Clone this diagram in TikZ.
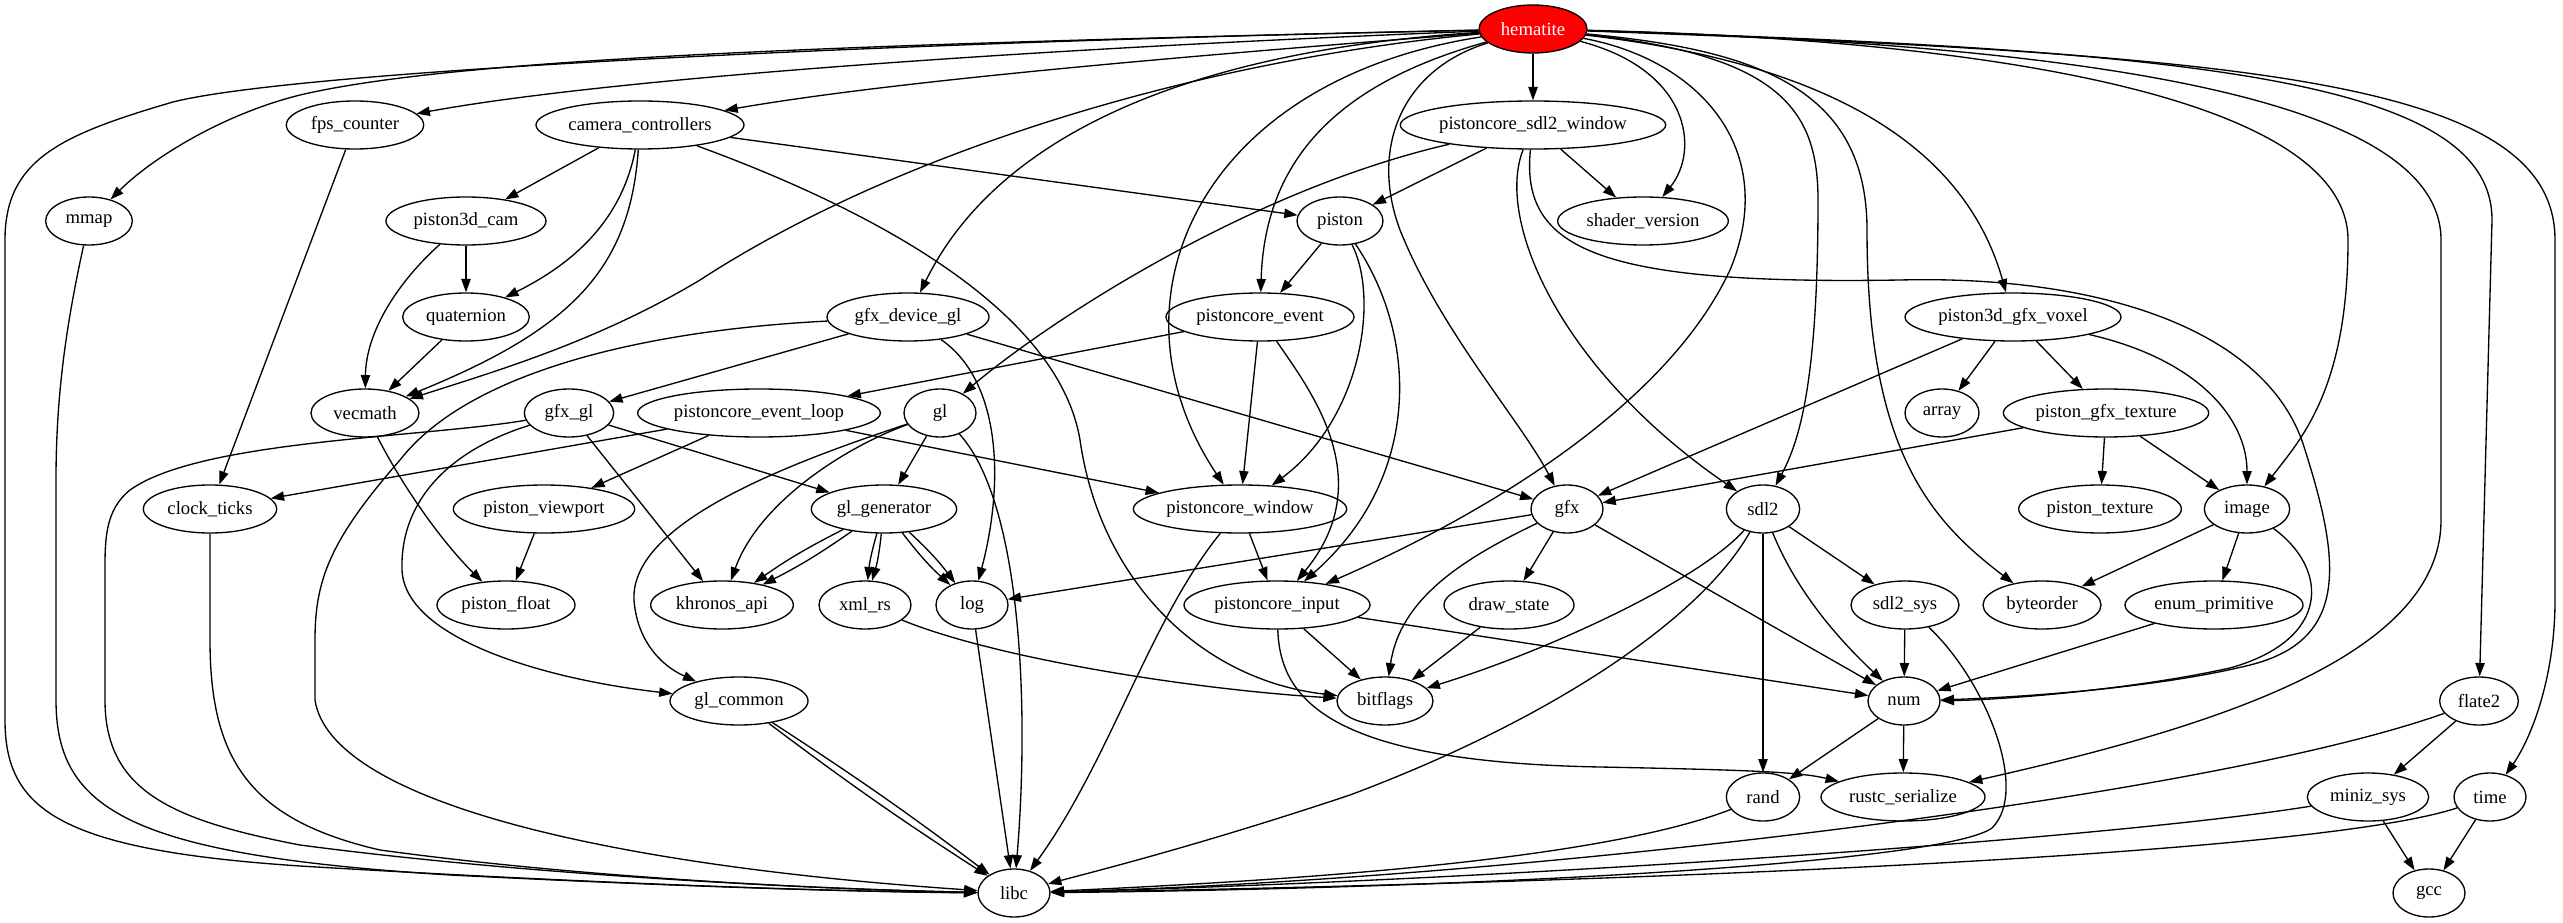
\documentclass[tikz,border=0pt]{standalone}
\usepackage{fontspec}
\setmainfont{Liberation Serif}
\usetikzlibrary{shapes.geometric,arrows.meta}
\tikzset{
  nd/.style={draw, ellipse, line width=1pt, inner sep=0pt, minimum height=36pt, font=\fontsize{14}{16}\selectfont},
  edg/.style={-{Triangle[length=10pt,width=7pt]}, line width=1pt},
}
\begin{document}
\begin{tikzpicture}[x=0.75pt,y=-0.75pt]
\useasboundingbox (0,0) rectangle (2563,923);
% rank 0
\node[nd, minimum width=81pt, fill=red, text=white] (hem) at (1533,29) {hematite};
% rank 1
\node[nd, minimum width=103pt] (fps) at (355,125) {fps\_counter};
\node[nd, minimum width=156pt] (cam) at (640,125) {camera\_controllers};
\node[nd, minimum width=198pt] (sdlw) at (1533,125) {pistoncore\_sdl2\_window};
% rank 2
\node[nd, minimum width=65pt] (mmap) at (89,221) {mmap};
\node[nd, minimum width=120pt] (p3cam) at (466,221) {piston3d\_cam};
\node[nd, minimum width=64.5pt] (piston) at (1340,221) {piston};
\node[nd, minimum width=128pt] (shader) at (1643,221) {shader\_version};
% rank 3
\node[nd, minimum width=95pt] (quat) at (466,317) {quaternion};
\node[nd, minimum width=121.5pt] (gdgl) at (908,317) {gfx\_device\_gl};
\node[nd, minimum width=141pt] (pev) at (1260,317) {pistoncore\_event};
\node[nd, minimum width=162pt] (voxel) at (2013,317) {piston3d\_gfx\_voxel};
% rank 4
\node[nd, minimum width=81pt] (vecm) at (365,413) {vecmath};
\node[nd, minimum width=67pt] (gfxgl) at (569,413) {gfx\_gl};
\node[nd, minimum width=182pt] (pevl) at (759,413) {pistoncore\_event\_loop};
\node[nd, minimum width=54pt] (gl) at (940,413) {gl};
\node[nd, minimum width=55.5pt] (array) at (1942,413) {array};
\node[nd, minimum width=154pt] (pgtex) at (2106,413) {piston\_gfx\_texture};
% rank 5
\node[nd, minimum width=100pt] (clock) at (210,509) {clock\_ticks};
\node[nd, minimum width=136pt] (pview) at (544,509) {piston\_viewport};
\node[nd, minimum width=109pt] (glgen) at (884,509) {gl\_generator};
\node[nd, minimum width=160pt] (pwin) at (1240,509) {pistoncore\_window};
\node[nd, minimum width=54pt] (gfx) at (1567,509) {gfx};
\node[nd, minimum width=55pt] (sdl2) at (1763,509) {sdl2};
\node[nd, minimum width=122pt] (ptex) at (2100,509) {piston\_texture};
\node[nd, minimum width=64pt] (image) at (2247,509) {image};
% rank 6
\node[nd, minimum width=103.5pt] (pfloat) at (506,605) {piston\_float};
\node[nd, minimum width=107pt] (khr) at (722,605) {khronos\_api};
\node[nd, minimum width=69pt] (xml) at (865,605) {xml\_rs};
\node[nd, minimum width=54pt] (log) at (972,605) {log};
\node[nd, minimum width=139.5pt] (pinput) at (1277,605) {pistoncore\_input};
\node[nd, minimum width=97.5pt] (dstate) at (1509,605) {draw\_state};
\node[nd, minimum width=81pt] (sdl2sys) at (1905,605) {sdl2\_sys};
\node[nd, minimum width=88.5pt] (byte) at (2042,605) {byteorder};
\node[nd, minimum width=133.5pt] (enump) at (2214,605) {enum\_primitive};
% rank 7
\node[nd, minimum width=103.5pt] (glc) at (739,701) {gl\_common};
\node[nd, minimum width=72pt] (bitf) at (1385,701) {bitflags};
\node[nd, minimum width=54pt] (num) at (1904,701) {num};
\node[nd, minimum width=59pt] (flate) at (2479,701) {flate2};
% rank 8
\node[nd, minimum width=55pt] (rand) at (1763,797) {rand};
\node[nd, minimum width=123pt] (rustc) at (1903,797) {rustc\_serialize};
\node[nd, minimum width=91pt] (miniz) at (2368,797) {miniz\_sys};
\node[nd, minimum width=54pt] (time) at (2490,797) {time};
% rank 9
\node[nd, minimum width=54pt] (libc) at (1014,893) {libc};
\node[nd, minimum width=54pt] (gcc) at (2429,893) {gcc};

% hematite
\draw[edg] (hem) .. controls (900,42) and (300,70) .. (173,102) .. controls (60,135) and (5,160) .. (5,240) -- (5,720) .. controls (5,810) and (60,850) .. (300,866) .. controls (600,884) and (850,892) .. (libc);
\draw[edg] (hem) .. controls (800,45) and (450,60) .. (300,95) .. controls (220,115) and (150,160) .. (mmap);
\draw[edg] (hem) .. controls (1000,50) and (600,80) .. (fps);
\draw[edg] (hem) .. controls (1200,55) and (900,80) .. (cam);
\draw[edg] (hem) .. controls (1200,60) and (900,150) .. (700,280) .. controls (600,340) and (500,370) .. (vecm);
\draw[edg] (hem) .. controls (1200,50) and (1000,130) .. (gdgl);
\draw[edg] (hem) .. controls (1350,80) and (1265,150) .. (pev);
\draw[edg] (hem) .. controls (1200,80) and (1100,300) .. (pwin);
\draw[edg] (hem) -- (sdlw);
\draw[edg] (hem) .. controls (1690,70) and (1700,150) .. (shader);
\draw[edg] (hem) .. controls (1400,70) and (1370,150) .. (1400,230) .. controls (1440,330) and (1520,420) .. (gfx);
\draw[edg] (hem) .. controls (1700,60) and (1780,150) .. (1730,270) .. controls (1660,420) and (1450,530) .. (pinput);
\draw[edg] (hem) .. controls (1780,55) and (1818,110) .. (1818,200) .. controls (1818,380) and (1800,440) .. (sdl2);
\draw[edg] (hem) .. controls (1760,50) and (1867,90) .. (1867,230) .. controls (1867,450) and (1930,520) .. (byte);
\draw[edg] (hem) .. controls (1800,60) and (1960,130) .. (voxel);
\draw[edg] (hem) .. controls (2000,40) and (2348,100) .. (2348,240) .. controls (2348,390) and (2300,440) .. (image);
\draw[edg] (hem) .. controls (2100,45) and (2441,100) .. (2441,240) -- (2441,520) .. controls (2441,660) and (2200,730) .. (rustc);
\draw[edg] (hem) .. controls (2200,50) and (2492,80) .. (2492,220) -- (flate);
\draw[edg] (hem) .. controls (2250,55) and (2555,80) .. (2555,240) -- (2555,600) .. controls (2555,680) and (2530,740) .. (time);

% pistoncore_sdl2_window
\draw[edg] (sdlw) -- (piston);
\draw[edg] (sdlw) -- (shader);
\draw[edg] (sdlw) .. controls (1250,190) and (1050,320) .. (gl);
\draw[edg] (sdlw) .. controls (1495,220) and (1560,370) .. (sdl2);
\draw[edg] (sdlw) .. controls (1520,250) and (1600,285) .. (1900,280) .. controls (2100,275) and (2270,330) .. (2305,450) .. controls (2340,560) and (2350,640) .. (2250,665) .. controls (2150,690) and (2000,698) .. (num);

% camera_controllers
\draw[edg] (cam) -- (p3cam);
\draw[edg] (cam) .. controls (620,230) and (560,270) .. (quat);
\draw[edg] (cam) .. controls (630,270) and (570,330) .. (vecm);
\draw[edg] (cam) -- (piston);
\draw[edg] (cam) .. controls (900,220) and (1060,320) .. (1080,440) .. controls (1100,580) and (1200,680) .. (bitf);

% left column
\draw[edg] (fps) -- (clock);
\draw[edg] (mmap) .. controls (65,330) and (56,400) .. (56,480) -- (56,700) .. controls (56,810) and (130,855) .. (450,875) .. controls (750,890) and (900,892) .. (libc);
\draw[edg] (clock) -- (210,640) .. controls (210,760) and (250,820) .. (380,850) .. controls (600,880) and (850,890) .. (libc);
\draw[edg] (p3cam) -- (quat);
\draw[edg] (p3cam) .. controls (400,280) and (366,330) .. (vecm);
\draw[edg] (quat) -- (vecm);
\draw[edg] (vecm) .. controls (410,500) and (450,550) .. (pfloat);
\draw[edg] (pview) -- (pfloat);

% gfx_gl / gfx_device_gl
\draw[edg] (gfxgl) .. controls (420,438) and (200,440) .. (130,490) .. controls (105,510) and (105,540) .. (105,570) -- (105,700) .. controls (105,790) and (170,820) .. (300,845) .. controls (550,878) and (850,890) .. (libc);
\draw[edg] (gfxgl) .. controls (450,450) and (400,500) .. (402,570) .. controls (405,640) and (550,680) .. (glc);
\draw[edg] (gfxgl) -- (khr);
\draw[edg] (gfxgl) -- (glgen);
\draw[edg] (gdgl) .. controls (650,330) and (470,370) .. (400,460) .. controls (330,540) and (315,580) .. (315,640) -- (315,700) .. controls (330,800) and (600,865) .. (libc);
\draw[edg] (gdgl) -- (gfxgl);
\draw[edg] (gdgl) .. controls (1000,380) and (1005,480) .. (log);
\draw[edg] (gdgl) -- (gfx);

% piston / events
\draw[edg] (piston) -- (pev);
\draw[edg] (piston) .. controls (1380,300) and (1360,420) .. (pwin);
\draw[edg] (piston) .. controls (1420,340) and (1420,480) .. (pinput);
\draw[edg] (pev) -- (pevl);
\draw[edg] (pev) -- (pwin);
\draw[edg] (pev) .. controls (1310,390) and (1380,480) .. (pinput);
\draw[edg] (pevl) -- (clock);
\draw[edg] (pevl) -- (pview);
\draw[edg] (pevl) -- (pwin);

% gl
\draw[edg] (gl) -- (glgen);
\draw[edg] (gl) .. controls (850,445) and (760,500) .. (khr);
\draw[edg] (gl) .. controls (1020,500) and (1030,700) .. (libc);
\draw[edg] (gl) .. controls (800,460) and (630,520) .. (634,600) .. controls (637,640) and (660,665) .. (glc);
\draw[edg] (glgen) to[bend left=4] (khr);
\draw[edg] (glgen) to[bend right=4] (khr);
\draw[edg] (glgen) to[bend left=5] (xml);
\draw[edg] (glgen) to[bend right=5] (xml);
\draw[edg] (glgen) to[bend left=5] (log);
\draw[edg] (glgen) to[bend right=5] (log);
\draw[edg] (xml) .. controls (1000,660) and (1200,690) .. (bitf);
\draw[edg] (log) -- (libc);
\draw[edg] (glc) to[bend left=2] (libc);
\draw[edg] (glc) to[bend right=2] (libc);

% window / input
\draw[edg] (pwin) -- (pinput);
\draw[edg] (pwin) .. controls (1150,620) and (1110,760) .. (libc);
\draw[edg] (pinput) -- (bitf);
\draw[edg] (pinput) -- (num);
\draw[edg] (pinput) .. controls (1280,700) and (1330,762) .. (1600,767) .. controls (1750,770) and (1800,772) .. (rustc);

% gfx
\draw[edg] (gfx) -- (log);
\draw[edg] (gfx) .. controls (1460,560) and (1400,600) .. (bitf);
\draw[edg] (gfx) -- (dstate);
\draw[edg] (gfx) -- (num);
\draw[edg] (dstate) -- (bitf);

% sdl2
\draw[edg] (sdl2) .. controls (1700,580) and (1550,650) .. (bitf);
\draw[edg] (sdl2) .. controls (1700,620) and (1550,720) .. (1350,795) .. controls (1200,845) and (1100,870) .. (libc);
\draw[edg] (sdl2) -- (rand);
\draw[edg] (sdl2) .. controls (1800,600) and (1850,650) .. (num);
\draw[edg] (sdl2) -- (sdl2sys);
\draw[edg] (sdl2sys) -- (num);
\draw[edg] (sdl2sys) .. controls (1985,680) and (2030,790) .. (1992,828) .. controls (1945,862) and (1500,888) .. (libc);
\draw[edg] (num) -- (rand);
\draw[edg] (num) -- (rustc);
\draw[edg] (rand) .. controls (1600,860) and (1300,880) .. (libc);

% voxel / texture / image
\draw[edg] (voxel) -- (gfx);
\draw[edg] (voxel) -- (array);
\draw[edg] (voxel) -- (pgtex);
\draw[edg] (voxel) .. controls (2200,360) and (2247,420) .. (image);
\draw[edg] (pgtex) -- (gfx);
\draw[edg] (pgtex) -- (ptex);
\draw[edg] (pgtex) -- (image);
\draw[edg] (image) -- (byte);
\draw[edg] (image) -- (enump);
\draw[edg] (image) .. controls (2330,570) and (2330,640) .. (2230,668) .. controls (2130,690) and (2000,700) .. (num);
\draw[edg] (enump) -- (num);

% flate2 / miniz / time
\draw[edg] (flate) -- (miniz);
\draw[edg] (flate) .. controls (2200,800) and (1500,880) .. (libc);
\draw[edg] (miniz) -- (gcc);
\draw[edg] (miniz) .. controls (2100,840) and (1500,880) .. (libc);
\draw[edg] (time) -- (gcc);
\draw[edg] (time) .. controls (2300,860) and (1500,885) .. (libc);
\end{tikzpicture}
\end{document}
